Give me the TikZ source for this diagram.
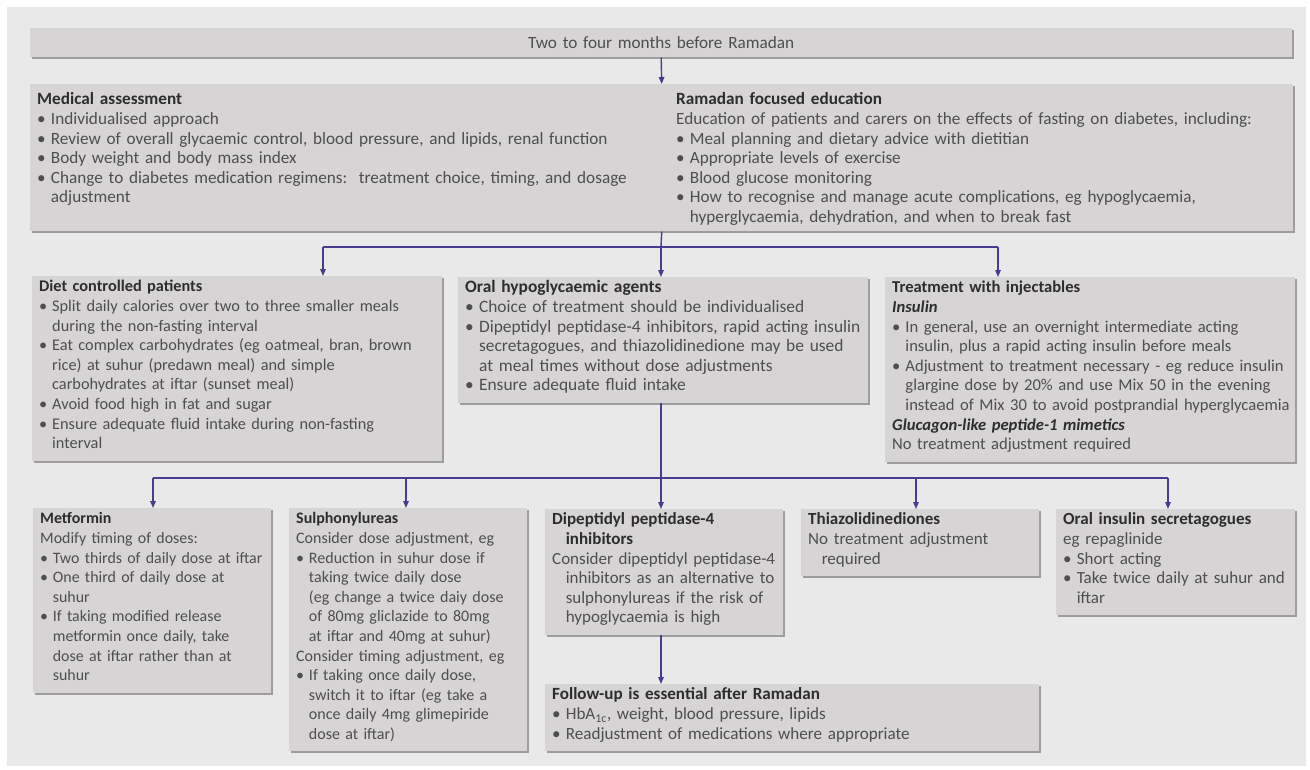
\documentclass[tikz,border=0pt]{standalone}
\usepackage{fontspec}
\setmainfont{Carlito}
\usetikzlibrary{arrows.meta, shadows}
\definecolor{panelgrey}{RGB}{233,233,233}
\definecolor{boxgrey}{RGB}{214,212,212}
\definecolor{shadegrey}{RGB}{158,156,156}
\definecolor{inkgrey}{RGB}{78,78,78}
\definecolor{headgrey}{RGB}{45,45,45}
\definecolor{flowpurple}{RGB}{75,59,143}

\newcommand{\boxhead}[1]{\leavevmode{\bfseries\color{headgrey}#1}}
\newcommand{\boxsub}[1]{\leavevmode{\bfseries\itshape\color{headgrey}#1}}
\newcommand{\bitem}{\textbullet\hspace{0.3em}}
\newcommand{\bcont}{\leavevmode\phantom{\textbullet\hspace{0.3em}}}
\newcommand{\boxtext}[1]{\begin{tabular}[t]{@{}l@{}}#1\\[4pt]\end{tabular}}

\begin{document}
\begin{tikzpicture}[x=1pt, y=-1pt,
  textsize/.style={font=\fontsize{#1}{19.6}\selectfont},
  textsize=16.8,
  box/.style={fill=boxgrey, text=inkgrey, anchor=north west, align=left,
    inner xsep=7pt, inner ysep=2pt,
    drop shadow={shadow xshift=2pt, shadow yshift=-2pt, fill=shadegrey, opacity=1}},
  link/.style={flowpurple, line width=1.4pt},
  arrow/.style={link, -{Triangle[length=7pt, width=5.5pt]}}]

  \useasboundingbox (0,0) rectangle (1310,769);
  \fill[white] (0,0) rectangle (1310,769);
  \fill[panelgrey] (7,7) rectangle (1306,766);

  % first two rows
  \node[box, textsize=17.2, text width=1248pt, minimum height=29pt, align=center, inner ysep=0pt] (lead) at (30,28) {Two to four months before Ramadan};

  \node[box, textsize=17.2, text width=1249pt] (prep) at (30,84) {\begin{tabular}[t]{@{}p{639pt}@{}l@{}}
    \noalign{\vskip5pt}
    \boxhead{Medical assessment} & \boxhead{Ramadan focused education}\\
    \bitem Individualised approach & Education of patients and carers on the effects of fasting on diabetes, including:\\
    \bitem Review of overall glycaemic control, blood pressure, and lipids, renal function & \bitem Meal planning and dietary advice with dietitian\\
    \bitem Body weight and body mass index & \bitem Appropriate levels of exercise\\
    \bitem Change to diabetes medication regimens:\ \ treatment choice, timing, and dosage & \bitem Blood glucose monitoring\\
    \bcont adjustment & \bitem How to recognise and manage acute complications, eg hypoglycaemia,\\
    & \bcont hyperglycaemia, dehydration, and when to break fast\\[1pt]
  \end{tabular}};

  \node[box, textsize=16.3, text width=396pt] (diet) at (32,276) {\boxtext{%
    \boxhead{Diet controlled patients}\\
    \bitem Split daily calories over two to three smaller meals\\
    \bcont during the non-fasting interval\\
    \bitem Eat complex carbohydrates (eg oatmeal, bran, brown\\
    \bcont rice) at suhur (predawn meal) and simple\\
    \bcont carbohydrates at iftar (sunset meal)\\
    \bitem Avoid food high in fat and sugar\\
    \bitem Ensure adequate fluid intake during non-fasting\\
    \bcont interval}};

  \node[box, textsize=17.4, text width=396pt] (oral) at (458,277) {\boxtext{%
    \boxhead{Oral hypoglycaemic agents}\\
    \bitem Choice of treatment should be individualised\\
    \bitem Dipeptidyl peptidase-4 inhibitors, rapid acting insulin\\
    \bcont secretagogues, and thiazolidinedione may be used\\
    \bcont at meal times without dose adjustments\\
    \bitem Ensure adequate fluid intake}};

  \node[box, textsize=16.6, text width=396pt] (inject) at (885,277) {\boxtext{%
    \boxhead{Treatment with injectables}\\
    \boxsub{Insulin}\\
    \bitem In general, use an overnight intermediate acting\\
    \bcont insulin, plus a rapid acting insulin before meals\\
    \bitem Adjustment to treatment necessary - eg reduce insulin\\
    \bcont glargine dose by 20\% and use Mix 50 in the evening\\
    \bcont instead of Mix 30 to avoid postprandial hyperglycaemia\\
    \boxsub{Glucagon-like peptide-1 mimetics}\\
    No treatment adjustment required}};

  % drug classes
  \node[box, textsize=15.9, text width=224pt] (metformin) at (33,508) {\boxtext{%
    \boxhead{Metformin}\\
    Modify timing of doses:\\
    \bitem Two thirds of daily dose at iftar\\
    \bitem One third of daily dose at\\
    \bcont suhur\\
    \bitem If taking modified release\\
    \bcont metformin once daily, take\\
    \bcont dose at iftar rather than at\\
    \bcont suhur}};

  \node[box, textsize=16, text width=224pt] (sulpho) at (289,508) {\boxtext{%
    \boxhead{Sulphonylureas}\\
    Consider dose adjustment, eg\\
    \bitem Reduction in suhur dose if\\
    \bcont taking twice daily dose\\
    \bcont (eg change a twice daiy dose\\
    \bcont of 80mg gliclazide to 80mg\\
    \bcont at iftar and 40mg at suhur)\\
    Consider timing adjustment, eg\\
    \bitem If taking once daily dose,\\
    \bcont switch it to iftar (eg take a\\
    \bcont once daily 4mg glimepiride\\
    \bcont dose at iftar)}};

  \node[box, textsize=17, text width=224pt] (dpp) at (545,509) {\boxtext{%
    \boxhead{Dipeptidyl peptidase-4}\\
    \boxhead{\bcont inhibitors}\\
    Consider dipeptidyl peptidase-4\\
    \bcont inhibitors as an alternative to\\
    \bcont sulphonylureas if the risk of\\
    \bcont hypoglycaemia is high}};

  \node[box, textsize=17, text width=224pt] (thiazo) at (801,509) {\boxtext{%
    \boxhead{Thiazolidinediones}\\
    No treatment adjustment\\
    \bcont required}};

  \node[box, textsize=17, text width=225pt] (ois) at (1056,509) {\boxtext{%
    \boxhead{Oral insulin secretagogues}\\
    eg repaglinide\\
    \bitem Short acting\\
    \bitem Take twice daily at suhur and\\
    \bcont iftar}};

  \node[box, textsize=17.1, text width=480pt] (follow) at (545,684) {\boxtext{%
    \boxhead{Follow-up is essential after Ramadan}\\
    \bitem HbA\textsubscript{1c}, weight, blood pressure, lipids\\
    \bitem Readjustment of medications where appropriate}};

  % connectors
  \draw[arrow] (lead.south) -- (prep.north);
  \coordinate (hub1) at (661,247);
  \coordinate (hub1l) at (323,247);
  \coordinate (hub1r) at (998,247);
  \draw[link] (prep.south) -- (hub1);
  \draw[link] (hub1l) -- (hub1r);
  \draw[arrow] (hub1l) -- (hub1l |- diet.north);
  \draw[arrow] (hub1) -- (hub1 |- oral.north);
  \draw[arrow] (hub1r) -- (hub1r |- inject.north);

  \coordinate (hub2) at (661,478);
  \draw[link] (hub1 |- oral.south) -- (hub2);
  \draw[link] (153,478) coordinate (hub2l) -- (1168,478) coordinate (hub2r);
  \foreach \x/\n in {153/metformin, 406/sulpho, 661/dpp, 916/thiazo, 1168/ois} {
    \coordinate (tap-\n) at (\x,478);
    \draw[arrow] (tap-\n) -- (tap-\n |- \n.north);
  }
  \draw[arrow] (tap-dpp |- dpp.south) -- (tap-dpp |- follow.north);
\end{tikzpicture}
\end{document}
